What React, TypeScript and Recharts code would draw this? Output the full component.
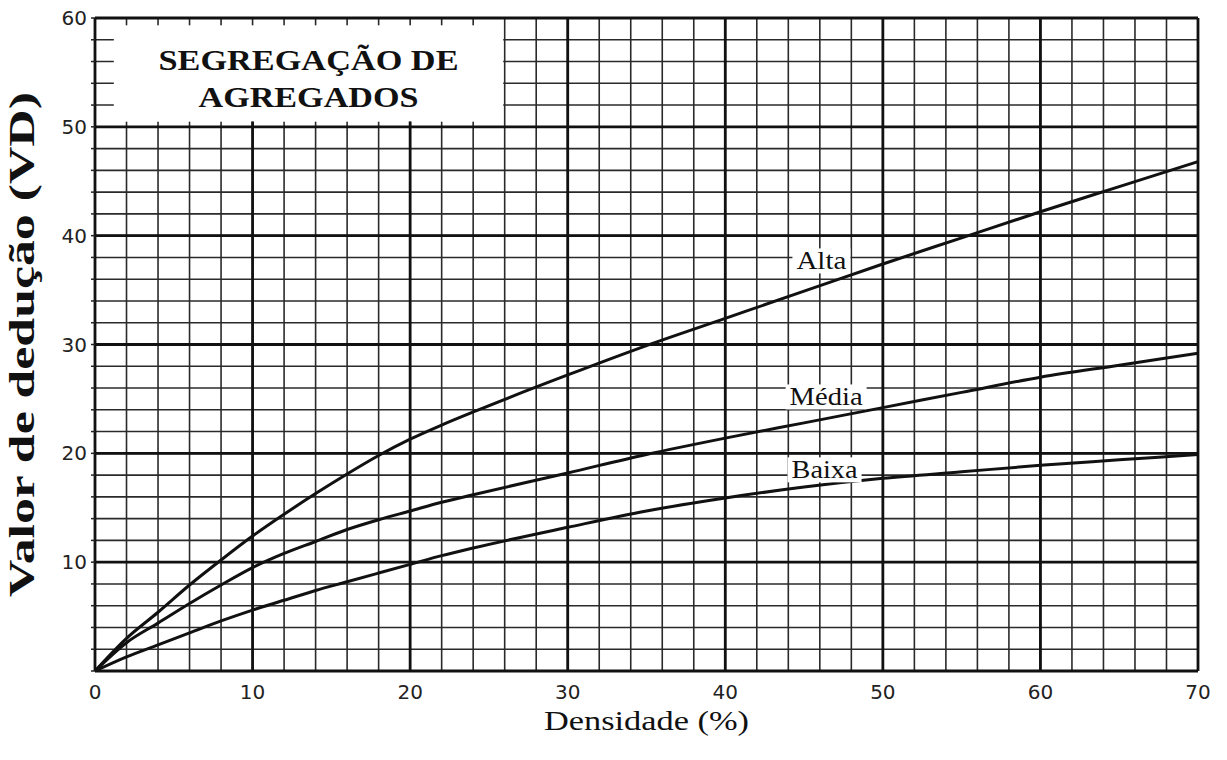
import React from "react";
import {
  LineChart,
  Line,
  XAxis,
  YAxis,
  CartesianGrid,
  ReferenceArea,
  ReferenceDot,
  ReferenceLine,
} from "recharts";

// valores (densidade % x valor de dedução)
const densidade = [0, 2, 4, 6, 8, 10, 12, 14, 16, 18, 20, 22, 24, 30, 35, 40, 45, 50, 55, 60, 65, 70];
const alta = [0, 3.0, 5.4, 7.9, 10.2, 12.4, 14.4, 16.3, 18.1, 19.8, 21.3, 22.6, 23.8, 27.2, 29.9, 32.4, 34.9, 37.4, 39.8, 42.2, 44.5, 46.8];
const media = [0, 2.6, 4.4, 6.2, 7.9, 9.5, 10.8, 11.9, 13.0, 13.9, 14.7, 15.5, 16.2, 18.2, 19.9, 21.4, 22.8, 24.2, 25.6, 27.0, 28.1, 29.2];
const baixa = [0, 1.3, 2.4, 3.5, 4.6, 5.6, 6.5, 7.4, 8.2, 9.0, 9.8, 10.6, 11.3, 13.2, 14.7, 15.9, 16.9, 17.7, 18.3, 18.9, 19.4, 19.9];

const xMajor = [0, 10, 20, 30, 40, 50, 60, 70];
const yMajor = [0, 10, 20, 30, 40, 50, 60];
const xMinor = Array.from({ length: 36 }, (_, i) => i * 2);
const yMinor = Array.from({ length: 31 }, (_, i) => i * 2);

const titleLines = ["SEGREGAÇÃO DE", "AGREGADOS"];
const curveNames = ["Alta", "Média", "Baixa"];
const xTitle = "Densidade (%)";
const yTitle = "Valor de dedução (VD)";

const data = densidade.map((d, i) => ({ d, alta: alta[i], media: media[i], baixa: baixa[i] }));

// caixa do título (em unidades dos eixos)
const box = { x1: 1.2, x2: 25.9, y1: 50.5, y2: 59.3 };

// onde ficam os rótulos das curvas (x, y da linha de base)
const labelPos = [
  { x: 46.1, y: 36.9, w: 50 },
  { x: 46.4, y: 24.4, w: 73 },
  { x: 46.3, y: 17.7, w: 66 },
];

const serif = "Liberation Serif";
const sans = "DejaVu Sans";

const curveLabel = (name: string, w: number) => (props: any) => {
  const { viewBox } = props;
  const cx = viewBox.x + (viewBox.width || 0) / 2;
  const cy = viewBox.y + (viewBox.height || 0) / 2;
  return (
    <g>
      <rect x={cx - w / 2 - 4} y={cy - 21} width={w + 8} height={25} fill="#fff" />
      <text
        x={cx - w / 2}
        y={cy}
        style={{ fontFamily: serif, fontSize: 25 }}
        fill="#111"
        textLength={w}
        lengthAdjust="spacingAndGlyphs"
      >
        {name}
      </text>
    </g>
  );
};

const titleLabel = (props: any) => {
  const { viewBox } = props;
  const cx = viewBox.x + viewBox.width / 2;
  const st = { fontFamily: serif, fontWeight: 700, fontSize: 29 };
  return (
    <g>
      <rect x={viewBox.x} y={viewBox.y} width={viewBox.width} height={viewBox.height} fill="#fff" />
      <text x={cx - 150} y={viewBox.y + 44} style={st} fill="#111" textLength={300} lengthAdjust="spacingAndGlyphs">
        {titleLines[0]}
      </text>
      <text x={cx - 110} y={viewBox.y + 81} style={st} fill="#111" textLength={220} lengthAdjust="spacingAndGlyphs">
        {titleLines[1]}
      </text>
    </g>
  );
};

const yLabel = (props: any) => {
  const { viewBox } = props;
  const x = viewBox.x - 1;
  const y = viewBox.y + viewBox.height / 2;
  return (
    <text
      x={x}
      y={y}
      transform={`rotate(-90 ${x} ${y})`}
      textAnchor="middle"
      style={{ fontFamily: serif, fontWeight: 700, fontSize: 36 }}
      fill="#111"
      textLength={505}
      lengthAdjust="spacingAndGlyphs"
    >
      {yTitle}
    </text>
  );
};

const xLabel = (props: any) => {
  const { viewBox } = props;
  const x = viewBox.x + viewBox.width / 2;
  return (
    <text
      x={x}
      y={viewBox.y + 59}
      textAnchor="middle"
      style={{ fontFamily: serif, fontSize: 28 }}
      fill="#111"
      textLength={205}
      lengthAdjust="spacingAndGlyphs"
    >
      {xTitle}
    </text>
  );
};

export default function App() {
  return (
    <div style={{ position: "absolute", left: 0, top: 0, background: "#fff" }}>
      <LineChart width={1227} height={760} data={data} margin={{ top: 18, right: 29, left: 35, bottom: 59 }}>
        <XAxis
          dataKey="d"
          type="number"
          domain={[0, 70]}
          ticks={xMinor}
          interval={0}
          tickFormatter={(v: number) => (v % 10 === 0 ? String(v) : "")}
          tickLine={false}
          axisLine={false}
          tickMargin={8}
          height={30}
          tick={{ fontFamily: sans, fontSize: 20, fill: "#222" }}
          label={xLabel}
        />
        <YAxis
          type="number"
          domain={[0, 60]}
          ticks={yMinor}
          interval={0}
          tickFormatter={(v: number) => (v % 10 === 0 && v > 0 ? String(v) : "")}
          tickLine={{ stroke: "#222", strokeWidth: 1.5 }}
          tickSize={4}
          tickMargin={4}
          axisLine={false}
          width={60}
          tick={{ fontFamily: sans, fontSize: 20, fill: "#222" }}
          label={yLabel}
        />
        <CartesianGrid stroke="#2a2a2a" strokeWidth={1.6} />
        {xMajor.map((v) =>
          v > box.x1 && v < box.x2 ? (
            <ReferenceLine
              key={"x" + v}
              segment={[{ x: v, y: 0 }, { x: v, y: box.y1 }]}
              stroke="#111"
              strokeWidth={2.8}
            />
          ) : (
            <ReferenceLine key={"x" + v} x={v} stroke="#111" strokeWidth={2.8} />
          )
        )}
        {yMajor.map((v) => (
          <ReferenceLine key={"y" + v} y={v} stroke="#111" strokeWidth={2.8} />
        ))}
        <ReferenceArea
          x1={box.x1}
          x2={box.x2}
          y1={box.y1}
          y2={box.y2}
          fill="#fff"
          fillOpacity={1}
          stroke="none"
          label={titleLabel}
        />
        <Line type="monotone" dataKey="alta" stroke="#111" strokeWidth={3} dot={false} isAnimationActive={false} />
        <Line type="monotone" dataKey="media" stroke="#111" strokeWidth={3} dot={false} isAnimationActive={false} />
        <Line type="monotone" dataKey="baixa" stroke="#111" strokeWidth={3} dot={false} isAnimationActive={false} />
        {curveNames.map((n, i) => (
          <ReferenceDot
            key={n}
            x={labelPos[i].x}
            y={labelPos[i].y}
            r={0}
            fill="none"
            stroke="none"
            label={curveLabel(n, labelPos[i].w)}
          />
        ))}
      </LineChart>
    </div>
  );
}
